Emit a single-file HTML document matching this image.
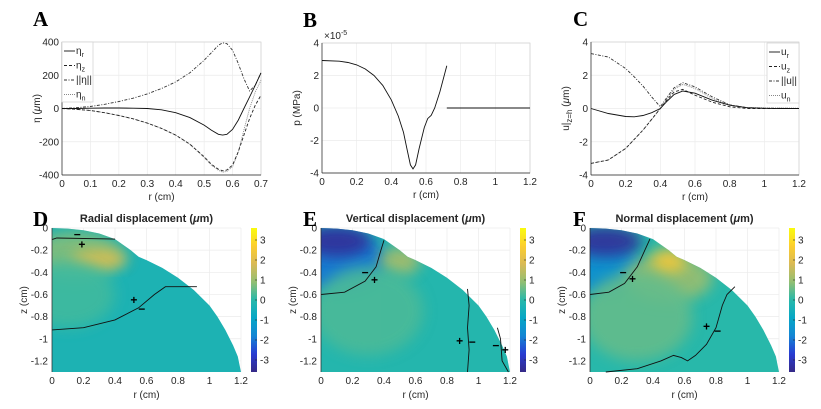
<!DOCTYPE html>
<html><head><meta charset="utf-8"><style>
body{margin:0;background:#fff}
svg{display:block;font-family:"Liberation Sans",sans-serif}
.t{font-size:10px;fill:#262626}
.L{font-family:"Liberation Serif",serif;font-weight:bold;font-size:21px;fill:#000}
</style></head><body>
<svg id="fig" width="821" height="409" viewBox="0 0 821 409"></svg>
<script>
// ---------- Panel A data ----------
const rA=[0,0.05,0.1,0.15,0.2,0.25,0.3,0.35,0.4,0.45,0.5,0.525,0.55,0.565,0.58,0.6,0.62,0.64,0.66,0.68,0.7];
const etaNorm=[0,5,12,25,42,62,88,120,160,215,290,335,380,395,390,350,270,180,105,140,215];
const etaR=[0,0,2,3,3,2,0,-8,-25,-55,-100,-130,-155,-160,-155,-125,-70,0,70,140,215];
const etaZ=[0,-5,-12,-25,-42,-62,-88,-120,-160,-215,-290,-335,-365,-375,-370,-340,-260,-160,-60,20,80];
const etaN=[0,-5,-12,-25,-42,-62,-88,-120,-160,-215,-295,-340,-372,-383,-378,-350,-260,-130,0,100,170];
const ticksA_x=[0,0.1,0.2,0.3,0.4,0.5,0.6,0.7];
const ticksA_y=[400,200,0,-200,-400];
// ---------- Panel B data ----------
const rB=[0,0.1,0.15,0.2,0.25,0.3,0.35,0.4,0.44,0.47,0.49,0.51,0.525,0.54,0.56,0.59,0.61,0.63,0.65,0.68,0.72];
const pB=[2.92,2.88,2.8,2.65,2.4,2.0,1.4,0.5,-0.5,-1.5,-2.5,-3.5,-3.75,-3.5,-2.5,-1.2,-0.65,-0.45,0,1.0,2.6];
const rB2=[0.72,1.2];
const pB2=[0,0];
const ticksB_x=[0,0.2,0.4,0.6,0.8,1,1.2];
const ticksB_y=[4,2,0,-2,-4];
// ---------- Panel C data ----------
const rC=[0,0.1,0.2,0.25,0.3,0.35,0.4,0.44,0.48,0.53,0.6,0.7,0.8,0.9,1.0,1.1,1.2];
const uR=[0,-0.3,-0.48,-0.5,-0.42,-0.25,0,0.45,0.85,1.05,0.92,0.5,0.2,0.05,0.01,0,0];
const uZ=[-3.3,-3.1,-2.4,-1.85,-1.3,-0.65,0,0.55,1.0,1.15,0.8,0.38,0.1,0.0,0.0,0,0];
const uNorm=[3.3,3.1,2.4,1.9,1.35,0.7,0.1,0.7,1.25,1.55,1.3,0.7,0.22,0.05,0.02,0.01,0];
const uN=[-3.3,-3.1,-2.4,-1.85,-1.3,-0.65,0,0.6,1.15,1.45,1.2,0.6,0.2,0.05,0.04,0.03,0.02];
const ticksC_x=[0,0.2,0.4,0.6,0.8,1,1.2];
const ticksC_y=[4,2,0,-2,-4];
// ---------- Heatmap panels ----------
const boundR=[0,0.1,0.2,0.3,0.4,0.5,0.55,0.6,0.7,0.8,0.9,1.0,1.05,1.1,1.15,1.18,1.2];
const boundZ=[0,-0.005,-0.02,-0.05,-0.1,-0.2,-0.26,-0.29,-0.36,-0.45,-0.56,-0.7,-0.8,-0.92,-1.06,-1.16,-1.3];
const ticksH_x=[0,0.2,0.4,0.6,0.8,1,1.2];
const ticksH_y=[0,-0.2,-0.4,-0.6,-0.8,-1,-1.2];
const cbTicks=[3,2,1,0,-1,-2,-3];
const baseD=-0.3, baseE=-0.1, baseF=0.0;
const blobD_r=[0.15,0.3,0.1], blobD_z=[-0.25,-0.28,-0.6], blobD_v=[0.8,2.0,0.2], blobD_rr=[0.3,0.18,0.3], blobD_rz=[0.22,0.08,0.3];
const blobE_r=[0.1,0.1,0.5,0.3], blobE_z=[-0.3,-0.12,-0.3,-0.75], blobE_v=[-2.0,-3.4,1.2,0.3], blobE_rr=[0.32,0.22,0.13,0.35], blobE_rz=[0.28,0.14,0.13,0.4];
const blobF_r=[0.05,0.1,0.5,0.5,0.3], blobF_z=[-0.35,-0.12,-0.45,-0.3,-0.8], blobF_v=[-1.6,-3.4,1.0,2.4,0.5], blobF_rr=[0.28,0.23,0.28,0.11,0.35], blobF_rz=[0.26,0.14,0.22,0.11,0.4];
const contD=[[[0,0.03,0.4],[-0.105,-0.09,-0.1]],[[0,0.2,0.4,0.55,0.65,0.72,0.92],[-0.92,-0.9,-0.83,-0.72,-0.6,-0.53,-0.53]]];
const contE=[[[0,0.15,0.28,0.35,0.38,0.4],[-0.6,-0.58,-0.48,-0.35,-0.2,-0.11]],[[0.93,0.94,0.93,0.94,0.93],[-0.55,-0.7,-0.9,-1.1,-1.3]],[[1.12,1.14,1.15,1.19],[-0.9,-1.0,-1.2,-1.3]]];
const contF=[[[0,0.12,0.22,0.3,0.38],[-0.6,-0.58,-0.5,-0.35,-0.1]],[[0.1,0.3,0.45,0.53,0.58,0.62,0.67,0.74,0.8,0.84,0.87,0.92],[-1.3,-1.27,-1.2,-1.15,-1.17,-1.2,-1.15,-1.05,-0.9,-0.7,-0.6,-0.53]]];
const signD_r=[0.16,0.19,0.52,0.57], signD_z=[-0.06,-0.15,-0.65,-0.73], signD_s=['−','+','+','−'];
const signE_r=[0.28,0.34,0.88,0.96,1.11,1.17], signE_z=[-0.4,-0.47,-1.02,-1.03,-1.06,-1.1], signE_s=['−','+','+','−','−','+'];
const signF_r=[0.21,0.27,0.74,0.81], signF_z=[-0.4,-0.46,-0.89,-0.93], signF_s=['−','+','+','−'];

const NS="http://www.w3.org/2000/svg";
const svg=document.getElementById('fig');
function mk(tag,attrs,parent,text){const e=document.createElementNS(NS,tag);for(const k in attrs)e.setAttribute(k,attrs[k]);if(text!==undefined)e.textContent=text;(parent||svg).appendChild(e);return e;}
function lin(d0,d1,p0,p1){return v=>p0+(v-d0)/(d1-d0)*(p1-p0);}
const parulaStops=[[53,42,135],[40,60,210],[20,133,212],[6,167,198],[40,184,170],[146,191,115],[217,186,86],[252,206,46],[249,251,14]];
function parula(v){let t=(v+3.6)/7.2;t=Math.max(0,Math.min(1,t))*8;const i=Math.min(7,Math.floor(t)),f=t-i;const a=parulaStops[i],b=parulaStops[i+1];return 'rgb('+a.map((c,k)=>Math.round(c+(b[k]-c)*f)).join(',')+')';}

function lineAxes(name,x0,x1,y0,y1,xd0,xd1,yd0,yd1,tx,ty,ylab,letter,lx){
  const g=mk('g',{},svg);
  const X=lin(xd0,xd1,x0,x1),Y=lin(yd0,yd1,y1,y0);
  tx.forEach(v=>{mk('line',{x1:X(v),x2:X(v),y1:y0,y2:y1,stroke:'#ebebeb','stroke-width':0.7},g);
    const t=mk('text',{x:X(v),y:y1+12,'text-anchor':'middle',class:'t'},g,String(v));});
  ty.forEach(v=>{mk('line',{x1:x0,x2:x1,y1:Y(v),y2:Y(v),stroke:'#ebebeb','stroke-width':0.7},g);
    const t=mk('text',{x:x0-3,y:Y(v)+3.5,'text-anchor':'end',class:'t'},g,String(v));});
  mk('rect',{x:x0,y:y0,width:x1-x0,height:y1-y0,fill:'none',stroke:'#d0d0d0','stroke-width':0.7},g);
  mk('line',{x1:x0,x2:x1,y1:y1,y2:y1,stroke:'#262626','stroke-width':0.7},g);
  mk('line',{x1:x0,x2:x0,y1:y0,y2:y1,stroke:'#262626','stroke-width':0.7},g);
  const xl=mk('text',{x:(x0+x1)/2,y:y1+25,'text-anchor':'middle',class:'t','font-size':'11'},g,'r (cm)');
  const yl=mk('text',{x:0,y:0,transform:`translate(${x0-22},${(y0+y1)/2}) rotate(-90)`,'text-anchor':'middle',class:'t','font-size':'11'},g);yl.innerHTML=ylab;
  const L=mk('text',{x:lx,y:y0-16,class:'L'},g,letter);
  return {g,X,Y};
}
function series(ax,xs,ys,dash,color,name){
  const d=xs.map((x,i)=>(i?'L':'M')+ax.X(x).toFixed(1)+','+ax.Y(ys[i]).toFixed(1)).join('');
  const p=mk('path',{d,fill:'none',stroke:color,'stroke-width':0.9,'stroke-dasharray':dash},ax.g);
  
}
function legend(ax,x,y,w,labels,dashes,colors){
  const g=mk('g',{},ax.g);
  mk('rect',{x,y,width:w,height:60,fill:'#fff',stroke:'#d0d0d0','stroke-width':0.7},g);
  labels.forEach((lb,i)=>{const yy=y+9+i*14.5;
    const e=mk('g',{},g);
    mk('line',{x1:x+2,x2:x+13,y1:yy,y2:yy,stroke:colors[i],'stroke-width':0.9,'stroke-dasharray':dashes[i]},e);
    const t=mk('text',{x:x+14,y:yy+3,class:'t','font-size':'9'},e);t.innerHTML=lb;});
}
// Panel A
const A=lineAxes('panel-a',62,261,42,175,0,0.7,-400,400,ticksA_x,ticksA_y,'η (<tspan font-style="italic">μ</tspan>m)','A',33);
series(A,rA,etaNorm,'3,1.5,1,1.5','#333','series-eta-norm');
series(A,rA,etaN,'1,1','#888','series-eta-n');
series(A,rA,etaZ,'3,2','#222','series-eta-z');
series(A,rA,etaR,'','#111','series-eta-r');
legend(A,62,42,31,['η<tspan font-size="7" dy="3">r</tspan>','η<tspan font-size="7" dy="3">z</tspan>','||η||','η<tspan font-size="7" dy="3">n</tspan>'],['','3,2','3,1.5,1,1.5','1,1'],['#111','#222','#333','#888']);
// Panel B
const B=lineAxes('panel-b',322,530,43,173,0,1.2,-4,4,ticksB_x,ticksB_y,'p (MPa)','B',303);
series(B,rB,pB,'','#111','series-pressure');
series(B,rB2,pB2,'','#111','series-pressure-outer');
const ex=mk('text',{x:324,y:39,class:'t','font-size':'9'},B.g);ex.innerHTML='×10<tspan dy="-4" font-size="7">-5</tspan>';
// Panel C
const C=lineAxes('panel-c',591,799,42,175,0,1.2,-4,4,ticksC_x,ticksC_y,'u|<tspan font-size="8" dy="3">z=h</tspan><tspan dy="-3"> (</tspan><tspan font-style="italic">μ</tspan>m)','C',573);
series(C,rC,uNorm,'3,1.5,1,1.5','#333','series-u-norm');
series(C,rC,uN,'1,1','#888','series-u-n');
series(C,rC,uZ,'3,2','#222','series-u-z');
series(C,rC,uR,'','#111','series-u-r');
legend(C,767,43,32,['u<tspan font-size="7" dy="3">r</tspan>','u<tspan font-size="7" dy="3">z</tspan>','||u||','u<tspan font-size="7" dy="3">n</tspan>'],['','3,2','3,1.5,1,1.5','1,1'],['#111','#222','#333','#888']);

// Heatmaps
function heat(name,x0,x1,letter,lx,title,base,br,bz,bv,brr,brz,conts,sr,sz,ss,cbx){
  const y0=228,y1=372;
  const g=mk('g',{},svg);
  const X=lin(0,1.2,x0,x1),Y=lin(0,-1.3,y0,y1);
  ticksH_x.forEach(v=>{mk('line',{x1:X(v),x2:X(v),y1:y0,y2:y1,stroke:'#ebebeb','stroke-width':0.7},g);
    const t=mk('text',{x:X(v),y:y1+12,'text-anchor':'middle',class:'t'},g,String(v));});
  ticksH_y.forEach(v=>{mk('line',{x1:x0,x2:x1,y1:Y(v),y2:Y(v),stroke:'#ebebeb','stroke-width':0.7},g);
    const t=mk('text',{x:x0-4,y:Y(v)+3.5,'text-anchor':'end',class:'t'},g,String(v));});
  const id='clip'+letter;
  const cp=mk('clipPath',{id},g);
  const dd='M'+X(0)+','+Y(-1.3)+boundR.map((r,i)=>'L'+X(r).toFixed(1)+','+Y(boundZ[i]).toFixed(1)).join('')+'Z';
  mk('path',{d:dd},cp);
  const fg=mk('g',{'clip-path':`url(#${id})`},g);
  mk('rect',{x:x0,y:y0,width:x1-x0,height:y1-y0,fill:parula(base)},fg);
  const flt=mk('filter',{id:'bl'+letter,x:'-50%',y:'-50%',width:'200%',height:'200%'},g);
  mk('feGaussianBlur',{stdDeviation:7},flt);
  bv.forEach((v,i)=>{const rx=(brr[i]/1.2)*(x1-x0),ry=(brz[i]/1.3)*(y1-y0);
    const e=mk('ellipse',{cx:X(br[i]),cy:Y(bz[i]),rx,ry,fill:parula(v),filter:`url(#bl${letter})`,opacity:0.9},fg);
    });
  conts.forEach(c=>{const d=c[0].map((r,i)=>(i?'L':'M')+X(r).toFixed(1)+','+Y(c[1][i]).toFixed(1)).join('');
    const p=mk('path',{d,fill:'none',stroke:'#111','stroke-width':0.9},g);});
  ss.forEach((s,i)=>{const t=mk('text',{x:X(sr[i]),y:Y(sz[i])+4,'text-anchor':'middle','font-size':'12','font-weight':'bold',fill:'#000'},g,s);});
  mk('line',{x1:x0,x2:x0,y1:y0,y2:y1,stroke:'#262626','stroke-width':0.7},g);
  const xl=mk('text',{x:(x0+x1)/2,y:y1+26,'text-anchor':'middle',class:'t','font-size':'11'},g,'r (cm)');
  const yl=mk('text',{x:0,y:0,transform:`translate(${x0-25},${(y0+y1)/2}) rotate(-90)`,'text-anchor':'middle',class:'t','font-size':'11'},g,'z (cm)');
  const tt=mk('text',{x:(x0+x1)/2,y:222,'text-anchor':'middle','font-size':'11','font-weight':'bold',fill:'#262626'},g);tt.innerHTML=title+'  (<tspan font-style="italic">μ</tspan>m)';
  const L=mk('text',{x:lx,y:226,class:'L'},g,letter);
  const cg=mk('g',{},g);
  const gid='cbg'+letter;const lg=mk('linearGradient',{id:gid,x1:0,y1:1,x2:0,y2:0},cg);
  for(let k=0;k<=8;k++){mk('stop',{offset:k/8,'stop-color':parula(-3.6+7.2*k/8)},lg);}
  mk('rect',{x:cbx,y:y0,width:6,height:y1-y0,fill:`url(#${gid})`},cg);
  const CY=lin(3.6,-3.6,y0,y1);
  cbTicks.forEach(v=>{mk('line',{x1:cbx+6,x2:cbx+4,y1:CY(v),y2:CY(v),stroke:'#262626','stroke-width':0.6},cg);
    const t=mk('text',{x:cbx+9,y:CY(v)+3.5,class:'t','font-size':'9'},cg,String(v));});
}
heat('panel-d',52,241,'D',33,'Radial  displacement',baseD,blobD_r,blobD_z,blobD_v,blobD_rr,blobD_rz,contD,signD_r,signD_z,signD_s,251);
heat('panel-e',321,510,'E',303,'Vertical  displacement',baseE,blobE_r,blobE_z,blobE_v,blobE_rr,blobE_rz,contE,signE_r,signE_z,signE_s,520);
heat('panel-f',590,779,'F',573,'Normal  displacement',baseF,blobF_r,blobF_z,blobF_v,blobF_rr,blobF_rz,contF,signF_r,signF_z,signF_s,789);
</script>
</body></html>
